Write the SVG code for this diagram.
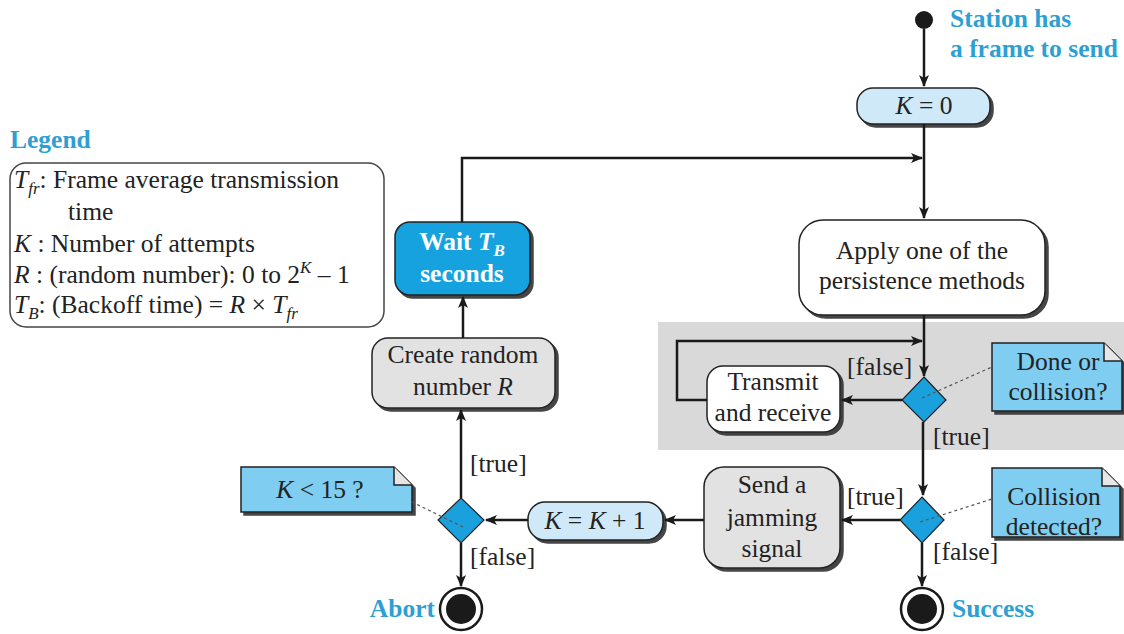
<svg xmlns="http://www.w3.org/2000/svg" width="1124" height="634" viewBox="0 0 1124 634">
<defs>
<marker id="arr" viewBox="0 0 12 10" refX="11" refY="5" markerWidth="12" markerHeight="10" markerUnits="userSpaceOnUse" orient="auto">
<path d="M0,0 L12,5 L0,10 L3,5 z" fill="#1a1a1a"/>
</marker>
<filter id="sh" x="-10%" y="-10%" width="130%" height="140%">
<feDropShadow dx="3" dy="3" stdDeviation="0.7" flood-color="#333" flood-opacity="0.9"/>
</filter>
</defs>
<style>
text{font-family:"Liberation Serif","Times New Roman",serif;font-size:25.5px;fill:#222}
.c{text-anchor:middle}
.i{font-style:italic}
.b{font-weight:bold}
.blue{fill:#2e9fd3;font-weight:bold}
.box{stroke:#222;stroke-width:1.5;filter:url(#sh)}
.lb{fill:#cfe9f8}
.wh{fill:#ffffff}
.gr{fill:#e2e2e2}
.note{fill:#7fcdf0;stroke:#222;stroke-width:1.5;filter:url(#sh)}
.fold{fill:#e6e6e6;stroke:#222;stroke-width:1.5}
.dia{fill:#1aa0dc;stroke:#222;stroke-width:1.2}
.ln{fill:none;stroke:#1a1a1a;stroke-width:2.5}
.dot{fill:none;stroke:#555;stroke-width:1.2;stroke-dasharray:3 3}
.sub{font-size:17px}
</style>
<rect id="region" x="658" y="322" width="466" height="128" fill="#d9d9d9"/>

<g id="legend">
<text x="10" y="148" class="blue">Legend</text>
<rect x="10" y="163" width="374" height="164" rx="16" fill="#fff" stroke="#444" stroke-width="1.5"/>
<text x="14" y="188"><tspan class="i">T</tspan><tspan class="i sub" dy="6">fr</tspan><tspan dy="-6">: Frame average transmission</tspan></text>
<text x="68" y="220">time</text>
<text x="14" y="252"><tspan class="i">K</tspan> : Number of attempts</text>
<text x="14" y="283"><tspan class="i">R</tspan> : (random number): 0 to 2<tspan class="i sub" dy="-10">K</tspan><tspan dy="10"> – 1</tspan></text>
<text x="14" y="313"><tspan class="i">T</tspan><tspan class="i sub" dy="6">B</tspan><tspan dy="-6">: (Backoff time) = </tspan><tspan class="i">R</tspan> × <tspan class="i">T</tspan><tspan class="i sub" dy="6">fr</tspan></text>
</g>

<g id="start">
<circle cx="924" cy="20" r="9" fill="#1a1a1a"/>
<text x="950" y="27" class="blue">Station has</text>
<text x="950" y="57" class="blue">a frame to send</text>
</g>

<g id="k0">
<rect class="box lb" x="857" y="88" width="133" height="36" rx="16"/>
<text x="924" y="114" class="c"><tspan class="i">K</tspan> = 0</text>
</g>

<g id="apply">
<rect class="box wh" x="799" y="220" width="246" height="95" rx="24"/>
<text x="922" y="259" class="c">Apply one of the</text>
<text x="922" y="289" class="c">persistence methods</text>
</g>

<g id="transmit">
<rect class="box wh" x="707" y="366" width="133" height="66" rx="16"/>
<text x="773" y="390" class="c">Transmit</text>
<text x="773" y="421" class="c">and receive</text>
</g>

<g id="d1">
<polygon class="dia" points="924,377 946,400 924,422 902,400"/>
</g>

<g id="note1">
<path class="note" d="M992,343 H1104 L1122,361 V411 H992 Z"/>
<path class="fold" d="M1104,343 V361 H1122"/>
<text x="1058" y="370" class="c">Done or</text>
<text x="1058" y="400" class="c">collision?</text>
</g>

<g id="d2">
<polygon class="dia" points="922,497 944,520 922,543 900,520"/>
</g>

<g id="note2">
<path class="note" d="M992,468 H1102 L1120,486 V537 H992 Z"/>
<path class="fold" d="M1102,468 V486 H1120"/>
<text x="1054" y="505" class="c">Collision</text>
<text x="1054" y="535" class="c">detected?</text>
</g>

<g id="jam">
<rect class="box gr" x="704" y="467" width="136" height="101" rx="20"/>
<text x="772" y="493" class="c">Send a</text>
<text x="772" y="526" class="c">jamming</text>
<text x="772" y="557" class="c">signal</text>
</g>

<g id="kinc">
<rect class="box lb" x="528" y="502" width="135" height="38" rx="17"/>
<text x="595" y="529" class="c"><tspan class="i">K</tspan> = <tspan class="i">K</tspan> + 1</text>
</g>

<g id="d3">
<polygon class="dia" points="461,498 484,520 461,543 438,520"/>
</g>

<g id="note3">
<path class="note" d="M241,467 H394 L412,485 V512 H241 Z"/>
<path class="fold" d="M394,467 V485 H412"/>
<text x="320" y="498" class="c"><tspan class="i">K</tspan> &lt; 15 ?</text>
</g>

<g id="create">
<rect class="box gr" x="372" y="338" width="183" height="70" rx="16"/>
<text x="463" y="363" class="c">Create random</text>
<text x="463" y="395" class="c">number <tspan class="i">R</tspan></text>
</g>

<g id="wait">
<rect class="box" x="395" y="222" width="135" height="73" rx="15" fill="#19a2df"/>
<text x="462" y="250" class="c b" style="fill:#fff">Wait <tspan class="i">T</tspan><tspan class="i sub" dy="6" style="fill:#fff">B</tspan></text>
<text x="462" y="282" class="c b" style="fill:#fff">seconds</text>
</g>

<g id="success">
<circle cx="922" cy="609" r="21" fill="#fff" stroke="#1a1a1a" stroke-width="2.5"/>
<circle cx="922" cy="609" r="15" fill="#1a1a1a"/>
<text x="952" y="617" class="blue">Success</text>
</g>

<g id="abort">
<circle cx="461" cy="609" r="21" fill="#fff" stroke="#1a1a1a" stroke-width="2.5"/>
<circle cx="461" cy="609" r="15" fill="#1a1a1a"/>
<text x="435" y="617" class="blue" text-anchor="end">Abort</text>
</g>

<g id="connectors">
<path class="ln" d="M924,29 V86" marker-end="url(#arr)"/>
<path class="ln" d="M924,124 V218" marker-end="url(#arr)"/>
<path class="ln" d="M462,222 V158 H922" marker-end="url(#arr)"/>
<path class="ln" d="M924,315 V376" marker-end="url(#arr)"/>
<path class="ln" d="M707,400 H677 V341 H922" marker-end="url(#arr)"/>
<path class="ln" d="M902,400 H842" marker-end="url(#arr)"/>
<path class="ln" d="M923,422 V495" marker-end="url(#arr)"/>
<path class="ln" d="M900,520 H842" marker-end="url(#arr)"/>
<path class="ln" d="M704,520 H665" marker-end="url(#arr)"/>
<path class="ln" d="M528,520 H486" marker-end="url(#arr)"/>
<path class="ln" d="M461,498 V410" marker-end="url(#arr)"/>
<path class="ln" d="M463,338 V297" marker-end="url(#arr)"/>
<path class="ln" d="M461,543 V586" marker-end="url(#arr)"/>
<path class="ln" d="M922,543 V586" marker-end="url(#arr)"/>
<path class="dot" d="M922,398 L992,367"/>
<path class="dot" d="M920,522 L992,499"/>
<path class="dot" d="M463,527 L412,502"/>
<text x="847" y="375">[false]</text>
<text x="933" y="445">[true]</text>
<text x="847" y="505">[true]</text>
<text x="933" y="560">[false]</text>
<text x="470" y="472">[true]</text>
<text x="470" y="565">[false]</text>
</g>
</svg>
